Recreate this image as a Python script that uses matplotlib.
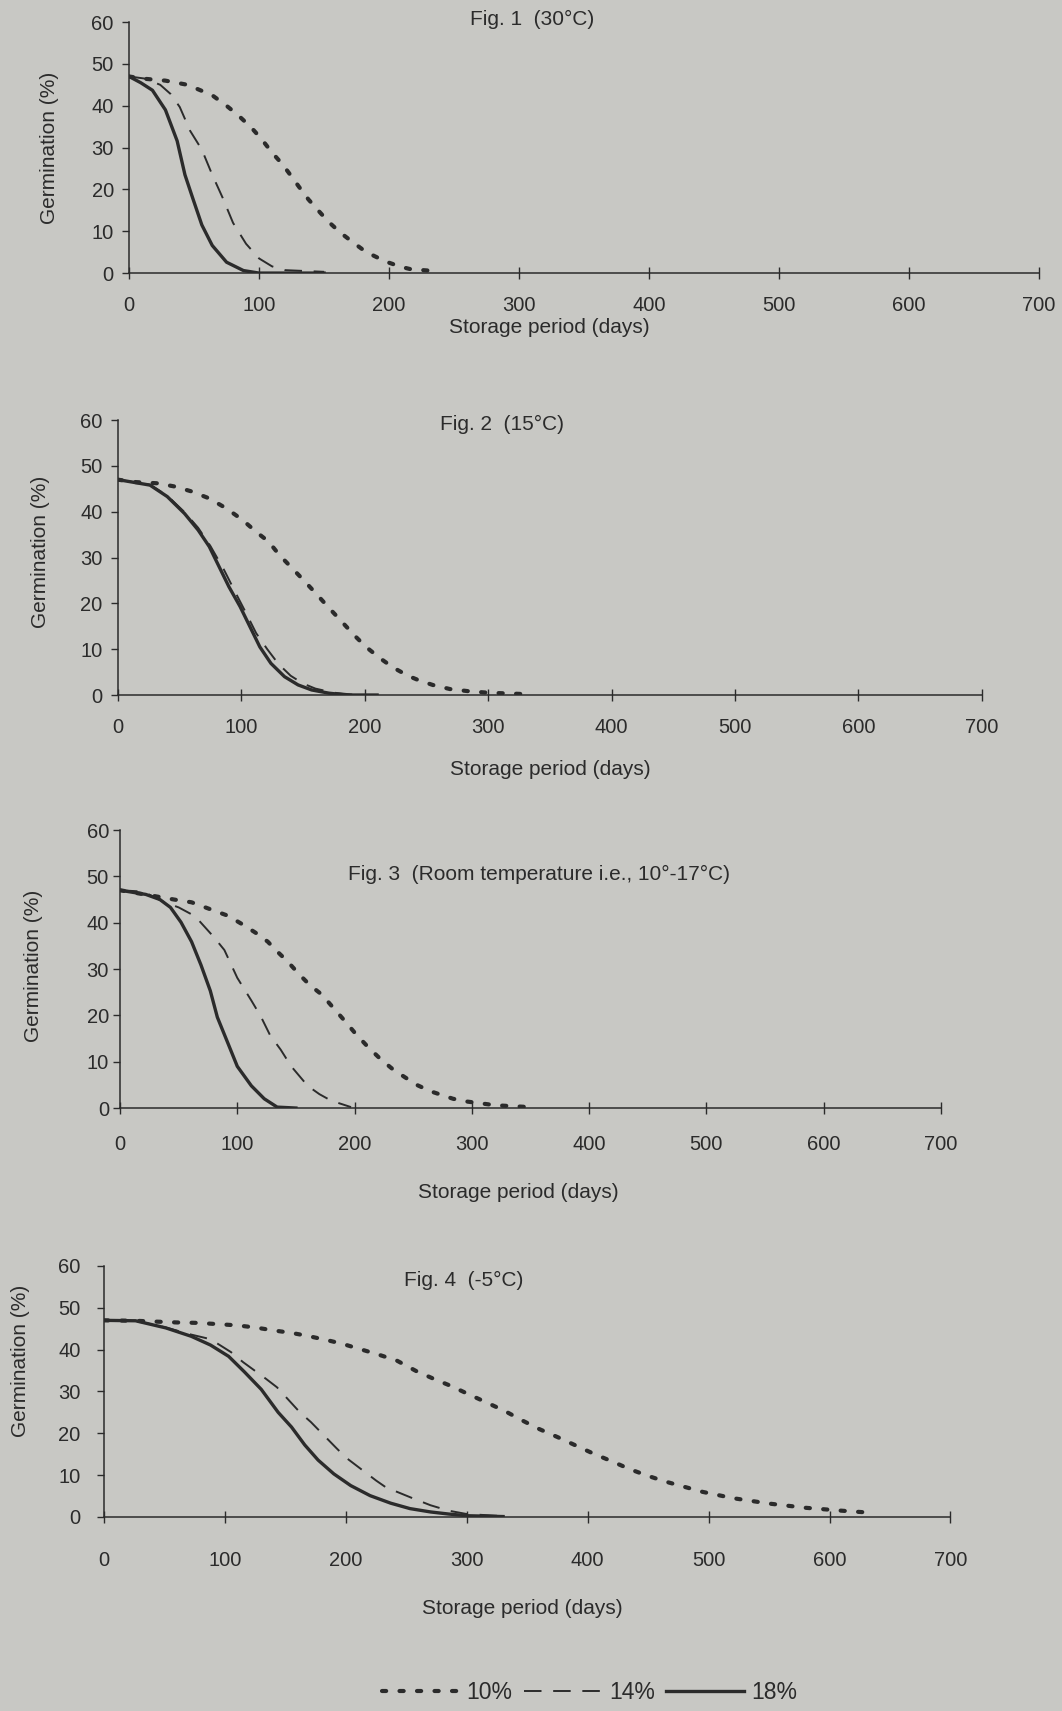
import matplotlib
matplotlib.use("Agg")
import matplotlib.pyplot as plt
from matplotlib.lines import Line2D

plt.rcParams['font.family'] = ['Liberation Sans', 'DejaVu Sans']

PAPER = '#c8c8c4'
INK = '#2b2b2b'

# --- data (storage days, germination %) ---
# Fig. 1 (30°C)
f1_d18 = [0, 9, 18, 28, 37, 43, 49, 56, 64, 75, 88, 100, 150]
f1_g18 = [47, 45.5, 43.7, 39, 31.6, 23.5, 17.9, 11.5, 6.6, 2.6, 0.6, 0, 0]
f1_d14 = [0, 12, 24, 32, 39, 47, 56, 64, 72, 80, 90, 100, 110, 120, 150]
f1_g14 = [47, 46.5, 45, 42.8, 39.7, 34, 29.5, 23.5, 18, 12, 7, 3.5, 1.6, 0.7, 0.3]
f1_d10 = [0, 10, 28, 45, 64, 75, 84, 94, 102, 110, 118, 124, 131, 138, 146, 153, 162, 172, 182,
          197, 209, 217, 235]
f1_g10 = [47, 46.5, 46, 45, 42.5, 40, 37.7, 34.8, 32, 28.8, 26, 23.5, 20.5, 17.6, 14.8, 12.4, 9.8,
          7.4, 5.1, 2.8, 1.5, 0.9, 0.5]

# Fig. 2 (15°C)
f2_d18 = [0, 26, 40, 54, 65, 74, 82, 90, 99, 107, 115, 124, 135, 146, 157, 171, 185, 210]
f2_g18 = [47, 45.8, 43.3, 39.6, 36, 32.4, 28, 23.6, 19.3, 14.9, 10.5, 6.9, 4, 2.2, 1.1, 0.4, 0, 0]
f2_d14 = [0, 26, 40, 54, 65, 75, 86, 95, 104, 112, 121, 130, 140, 150, 160, 175, 190]
f2_g14 = [47, 45.9, 43.5, 39.9, 36.5, 32.5, 27.3, 22.5, 17.8, 13.5, 10, 6.8, 4.2, 2.5, 1.4, 0.5, 0.1]
f2_d10 = [0, 12, 32, 46, 60, 74, 88, 101, 112, 122, 131, 140, 151, 161, 170, 179, 192, 201, 212,
          223, 235, 243, 255, 269, 285, 300, 330]
f2_g10 = [47, 46.5, 46.2, 45.5, 44.4, 42.9, 40.7, 38.2, 35.6, 33.5, 30.5, 28, 24.9, 22, 19.3, 16.7,
          12.9, 10.5, 8.1, 6, 4.2, 3.3, 2.2, 1.3, 0.8, 0.5, 0.2]

# Fig. 3 (room temperature)
f3_d18 = [0, 22, 34, 43, 52, 61, 69, 77, 83, 92, 100, 112, 123, 134, 150]
f3_g18 = [47, 46.1, 45, 43.3, 40.1, 35.9, 30.9, 25.3, 19.6, 14, 9, 4.8, 2, 0.2, 0]
f3_d14 = [0, 20, 37, 50, 64, 80, 89, 100, 112, 120, 128, 137, 146, 160, 170, 180, 197]
f3_g14 = [47, 46.7, 44.5, 43.3, 41.4, 36.9, 34.1, 28.1, 23.2, 19.8, 15.7, 12.6, 9, 4.8, 3, 1.6, 0.2]
f3_d10 = [0, 28, 46, 61, 77, 92, 106, 117, 126, 134, 143, 153, 162, 172, 182, 192, 201, 211, 222,
          232, 242, 253, 265, 284, 296, 320, 350]
f3_g10 = [47, 45.8, 45, 44.4, 42.9, 41.5, 39.4, 37.6, 35.9, 33.8, 31.6, 28.8, 26.5, 24.5, 21.6,
          18.7, 16, 13.3, 10.6, 8.5, 6.8, 5, 3.6, 2, 1.4, 0.6, 0.2]

# Fig. 4 (-5°C)
f4_d18 = [0, 26, 51, 72, 88, 103, 116, 130, 144, 155, 166, 177, 190, 204, 220, 237, 253, 270, 285,
          300, 330]
f4_g18 = [47, 46.9, 45.2, 43.2, 41.1, 38.4, 34.7, 30.5, 25, 21.5, 17.2, 13.6, 10.3, 7.5, 5.1, 3.3,
          2.0, 1.2, 0.7, 0.3, 0.1]
f4_d14 = [0, 26, 51, 72, 88, 105, 115, 134, 143, 162, 171, 192, 200, 225, 233, 255, 270, 285, 300, 330]
f4_g14 = [47, 46.9, 45.3, 43.6, 42.5, 39.4, 37, 33, 31, 25, 22.7, 16.5, 14.2, 8.7, 7.1, 4.5, 2.8,
          1.5, 0.7, 0.2]
f4_d10 = [0, 26, 60, 77, 94, 110, 125, 140, 155, 168, 184, 197, 212, 226, 242, 258, 272, 287, 301,
          316, 331, 345, 360, 375, 390, 405, 420, 435, 450, 465, 480, 495, 520, 550, 580, 610, 630]
f4_g10 = [47, 46.9, 46.5, 46.4, 46.1, 45.8, 45.3, 44.6, 44, 43.3, 42.3, 41.4, 40.1, 38.9, 37.4,
          34.9, 33.1, 31.3, 29.4, 27.4, 25.4, 23.2, 21, 19.1, 17.1, 15.1, 13.3, 11.4, 9.8, 8.4, 7.2,
          6, 4.5, 3.2, 2.2, 1.5, 1.1]

titles = ['Fig. 1  (30°C)', 'Fig. 2  (15°C)',
          'Fig. 3  (Room temperature i.e., 10°-17°C)', 'Fig. 4  (-5°C)']
x_ticks = [0, 100, 200, 300, 400, 500, 600, 700]
y_ticks = [0, 10, 20, 30, 40, 50, 60]

panels = [
    (f1_d10, f1_g10, f1_d14, f1_g14, f1_d18, f1_g18),
    (f2_d10, f2_g10, f2_d14, f2_g14, f2_d18, f2_g18),
    (f3_d10, f3_g10, f3_d14, f3_g14, f3_d18, f3_g18),
    (f4_d10, f4_g10, f4_d14, f4_g14, f4_d18, f4_g18),
]

# axes boxes in figure fractions [left, bottom, width, height]
boxes = [
    [0.1215, 0.8404, 0.857, 0.1467],
    [0.111, 0.5938, 0.8136, 0.1607],
    [0.113, 0.3524, 0.773, 0.1625],
    [0.098, 0.1134, 0.797, 0.1467],
]
title_pos = [(0.443, 1.01), (0.444, 0.985), (0.51, 0.84), (0.425, 0.944)]
xlab_pos = [(0.4615, -0.18), (0.501, -0.235), (0.485, -0.27), (0.494, -0.325)]
ylab_pos = [(-0.077, 0.50), (-0.079, 0.52), (-0.094, 0.51), (-0.087, 0.62)]
xpads = [12, 12, 15, 20]
ypads = [6, 6, 3, 12]

DOT = dict(color=INK, lw=3.0, linestyle=(0, (1, 3.2)), dash_capstyle='round')
DASH = dict(color=INK, lw=1.4, linestyle=(0, (9, 6)))
SOLID = dict(color=INK, lw=2.4)

fig = plt.figure(figsize=(10.62, 17.11), dpi=100, facecolor=PAPER)

for i, (d10, g10, d14, g14, d18, g18) in enumerate(panels):
    ax = fig.add_axes(boxes[i])
    ax.set_facecolor('none')
    ax.plot(d10, g10, **DOT)
    ax.plot(d14, g14, **DASH)
    ax.plot(d18, g18, **SOLID)

    ax.set_xlim(0, 700)
    ax.set_ylim(0, 60)
    ax.set_xticks(x_ticks)
    ax.set_yticks(y_ticks)
    ax.tick_params(axis='both', labelsize=14.5, colors=INK, width=1)
    ax.tick_params(axis='y', direction='out', length=5, pad=ypads[i])
    ax.tick_params(axis='x', direction='inout', length=9, pad=xpads[i])
    for s in ['top', 'right']:
        ax.spines[s].set_visible(False)
    for s in ['left', 'bottom']:
        ax.spines[s].set_color(INK)
        ax.spines[s].set_linewidth(1.1)

    ax.set_xlabel('Storage period (days)', fontsize=15, color=INK)
    ax.set_ylabel('Germination (%)', fontsize=15, color=INK)
    ax.xaxis.set_label_coords(*xlab_pos[i])
    ax.yaxis.set_label_coords(*ylab_pos[i])
    ax.text(title_pos[i][0], title_pos[i][1], titles[i], transform=ax.transAxes,
            ha='center', va='center', fontsize=15, color=INK)

handles = [Line2D([], [], **DOT), Line2D([], [], **DASH), Line2D([], [], **SOLID)]
fig.legend(handles, ['10%', '14%', '18%'], loc='center', bbox_to_anchor=(0.555, 0.011),
           ncol=3, frameon=False, fontsize=16.5, handlelength=3.4,
           handletextpad=0.3, columnspacing=0.5, labelcolor=INK)

fig.savefig('out.png', dpi=100, facecolor=PAPER)
